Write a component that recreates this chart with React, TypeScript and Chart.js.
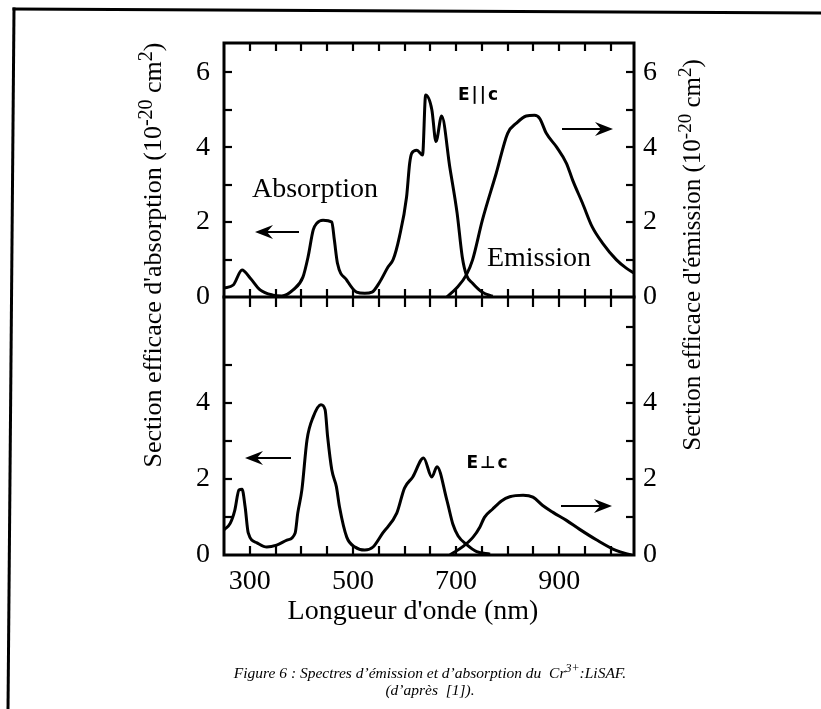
import React, { useEffect, useRef } from "react";
import { Chart, registerables } from "chart.js";

Chart.register(...registerables);

// ---------- data ----------
const X_MIN = 250;
const X_MAX = 1045;
const X_LABEL_TICKS = [300, 500, 700, 900];
const X_MARK_TICKS = [300, 350, 400, 450, 500, 550, 600, 650, 700, 750, 800, 850, 900, 950, 1000];
const Y_MAX = 6.78;
const Y_TOP_LABELS = [0, 2, 4, 6];
const Y_BOT_LABELS = [0, 2, 4];
const Y_TOP_LEFT_MARKS = [1, 2, 3, 4, 5, 6];
const Y_BOT_LEFT_MARKS = [1, 2, 3, 4, 5];
const Y_RIGHT_MARKS = [1, 2, 3, 4, 5, 6];

// E || c : absorption
const ABS_PAR_NM = [250, 268, 285, 301, 320, 345, 362, 384, 403, 413, 423, 430, 442, 459, 464, 470, 488, 507, 523, 537, 552, 568, 578, 590, 604, 610, 614, 624, 635, 641, 653, 661, 672, 688, 702, 712, 720, 732, 751, 771];
const ABS_PAR_VAL = [0.24, 0.32, 0.72, 0.5, 0.19, 0.05, 0.03, 0.19, 0.53, 1.07, 1.79, 1.97, 2.05, 2.0, 1.52, 0.9, 0.45, 0.13, 0.1, 0.13, 0.4, 0.8, 1.0, 1.6, 2.67, 3.57, 3.84, 3.92, 3.79, 5.39, 5.0, 4.15, 4.83, 3.45, 2.24, 1.07, 0.59, 0.37, 0.13, 0.02];
// E || c : emission
const EMI_PAR_NM = [682, 701, 720, 732, 751, 778, 800, 817, 836, 852, 862, 875, 895, 914, 926, 945, 964, 984, 1011, 1030, 1045];
const EMI_PAR_VAL = [0, 0.24, 0.59, 0.99, 2.05, 3.31, 4.37, 4.64, 4.83, 4.85, 4.77, 4.37, 4.0, 3.57, 3.12, 2.51, 1.87, 1.44, 0.99, 0.77, 0.64];
// E ⊥ c : absorption
const ABS_PERP_NM = [250, 262, 271, 279, 285, 291, 297, 314, 333, 352, 372, 388, 393, 401, 411, 423, 438, 446, 451, 459, 468, 474, 488, 504, 523, 539, 558, 585, 600, 616, 637, 653, 663, 682, 694, 704, 720, 740, 766];
const ABS_PERP_VAL = [0.66, 0.83, 1.18, 1.71, 1.73, 1.26, 0.58, 0.32, 0.21, 0.26, 0.39, 0.58, 1.1, 1.71, 3.03, 3.63, 3.95, 3.82, 3.1, 2.24, 1.79, 1.26, 0.47, 0.21, 0.13, 0.21, 0.58, 1.1, 1.76, 2.05, 2.55, 2.05, 2.32, 1.45, 0.8, 0.5, 0.28, 0.09, 0.02];
// E ⊥ c : emission
const EMI_PERP_NM = [688, 713, 733, 746, 755, 771, 788, 804, 830, 849, 868, 888, 914, 939, 972, 1010, 1040];
const EMI_PERP_VAL = [0, 0.22, 0.47, 0.73, 0.99, 1.21, 1.42, 1.53, 1.57, 1.52, 1.3, 1.12, 0.91, 0.68, 0.4, 0.12, 0];

// ---------- styles ----------
const SERIF = "'Liberation Serif', 'Times New Roman', serif";
const SANS = "'DejaVu Sans', sans-serif";
const W = 821;
const H = 709;

const zip = (xs: number[], ys: number[]) => xs.map((x, i) => ({ x, y: ys[i] }));

type Part = { t: string; sup?: boolean };

function drawRich(ctx: CanvasRenderingContext2D, parts: Part[], cx: number, baseY: number, size: number, style: string) {
  let total = 0;
  const widths: number[] = [];
  for (const p of parts) {
    ctx.font = `${style} ${p.sup ? Math.round(size * 0.75) : size}px ${SERIF}`;
    const w = ctx.measureText(p.t).width;
    widths.push(w);
    total += w;
  }
  let x = cx - total / 2;
  ctx.textAlign = "left";
  ctx.textBaseline = "alphabetic";
  parts.forEach((p, i) => {
    ctx.font = `${style} ${p.sup ? Math.round(size * 0.75) : size}px ${SERIF}`;
    ctx.fillText(p.t, x, p.sup ? baseY - size * 0.36 : baseY);
    x += widths[i];
  });
}

function arrow(ctx: CanvasRenderingContext2D, xTail: number, xHead: number, y: number) {
  const d = xHead > xTail ? 1 : -1;
  ctx.beginPath();
  ctx.lineWidth = 2;
  ctx.moveTo(xTail, y);
  ctx.lineTo(xHead - d * 8, y);
  ctx.stroke();
  ctx.beginPath();
  ctx.moveTo(xHead, y);
  ctx.lineTo(xHead - d * 18, y - 7);
  ctx.lineTo(xHead - d * 12, y);
  ctx.lineTo(xHead - d * 18, y + 7);
  ctx.closePath();
  ctx.fill();
}

const decoPlugin = {
  id: "deco",
  afterDraw(chart: any) {
    const ctx: CanvasRenderingContext2D = chart.ctx;
    const x = chart.scales.x;
    const yT = chart.scales.yTop;
    const yB = chart.scales.yBot;
    const L = chart.chartArea.left;
    const R = chart.chartArea.right;
    const T = yT.top;
    const M = yT.bottom;
    const B = yB.bottom;
    ctx.save();
    ctx.strokeStyle = "#000";
    ctx.fillStyle = "#000";
    ctx.lineCap = "square";

    const seg = (x1: number, y1: number, x2: number, y2: number) => {
      ctx.beginPath();
      ctx.moveTo(x1, y1);
      ctx.lineTo(x2, y2);
      ctx.stroke();
    };

    // plot frames
    ctx.lineWidth = 3;
    ctx.strokeRect(L, T, R - L, B - T);
    seg(L, M, R, M);

    // x tick marks
    ctx.lineWidth = 2.2;
    ctx.lineCap = "butt";
    for (const v of X_MARK_TICKS) {
      const px = Math.round(x.getPixelForValue(v));
      seg(px, T, px, T + 8);
      seg(px, M - 8, px, M + 10);
      seg(px, B - 9, px, B);
    }
    // y tick marks
    for (const v of Y_TOP_LEFT_MARKS) {
      const py = Math.round(yT.getPixelForValue(v));
      seg(L, py, L + 8, py);
    }
    for (const v of Y_BOT_LEFT_MARKS) {
      const py = Math.round(yB.getPixelForValue(v));
      seg(L, py, L + 8, py);
    }
    for (const v of Y_RIGHT_MARKS) {
      const p1 = Math.round(yT.getPixelForValue(v));
      const p2 = Math.round(yB.getPixelForValue(v));
      seg(R - 8, p1, R, p1);
      seg(R - 8, p2, R, p2);
    }

    // outer page frame (scanned, slightly tilted)
    ctx.lineWidth = 3;
    ctx.lineCap = "square";
    seg(14, 9, W, 13);
    seg(14, 9, 8, H);

    // axis titles
    const absTitle: Part[] = [
      { t: "Section efficace d'absorption (10" },
      { t: "-20", sup: true },
      { t: " cm" },
      { t: "2", sup: true },
      { t: ")" },
    ];
    const emiTitle: Part[] = [
      { t: "Section efficace d'émission (10" },
      { t: "-20", sup: true },
      { t: " cm" },
      { t: "2", sup: true },
      { t: ")" },
    ];
    ctx.save();
    ctx.translate(161, 255);
    ctx.rotate(-Math.PI / 2);
    drawRich(ctx, absTitle, 0, 0, 26, "");
    ctx.restore();
    ctx.save();
    ctx.translate(700, 255);
    ctx.rotate(-Math.PI / 2);
    drawRich(ctx, emiTitle, 0, 0, 25, "");
    ctx.restore();

    drawRich(ctx, [{ t: "Longueur d'onde (nm)" }], 413, 619, 28, "");

    // in-plot labels
    drawRich(ctx, [{ t: "Absorption" }], 315, 197, 28, "");
    drawRich(ctx, [{ t: "Emission" }], 539, 266, 28, "");

    ctx.font = `bold 17px ${SANS}`;
    ctx.textAlign = "center";
    ctx.textBaseline = "middle";
    (ctx as any).letterSpacing = "2px";
    ctx.fillText("E||c", 479, 96);
    ctx.fillText("E⊥c", 488, 464);
    (ctx as any).letterSpacing = "0px";

    // arrows
    arrow(ctx, 298, 255, 232);
    arrow(ctx, 563, 613, 129);
    arrow(ctx, 290, 245, 458);
    arrow(ctx, 562, 612, 506);

    // caption
    drawRich(
      ctx,
      [
        { t: "Figure 6 : Spectres d’émission et d’absorption du  Cr" },
        { t: "3+", sup: true },
        { t: ":LiSAF." },
      ],
      430,
      678,
      15.5,
      "italic"
    );
    drawRich(ctx, [{ t: "(d’après  [1])." }], 430, 695, 15.5, "italic");

    ctx.restore();
  },
};

const tickFont = { family: SERIF, size: 28 };

function yScale(position: "left" | "right", stack: string, sw: number, weight: number, labels: number[], width: number, pad: number) {
  return {
    type: "linear" as const,
    position,
    stack,
    stackWeight: sw,
    weight,
    min: 0,
    max: Y_MAX,
    grid: { display: false, drawTicks: false },
    border: { display: false },
    afterBuildTicks: (s: any) => {
      s.ticks = labels.map((v) => ({ value: v }));
    },
    afterFit: (s: any) => {
      s.width = width;
    },
    ticks: { font: tickFont, color: "#000", padding: pad, autoSkip: false },
  };
}

export default function App() {
  const ref = useRef<HTMLCanvasElement | null>(null);
  useEffect(() => {
    if (!ref.current) return;
    const line = { borderColor: "#000", borderWidth: 3, pointRadius: 0, fill: false, cubicInterpolationMode: "monotone" as const };
    const chart = new Chart(ref.current, {
      type: "line",
      data: {
        datasets: [
          { ...line, label: "Absorption E||c", data: zip(ABS_PAR_NM, ABS_PAR_VAL), yAxisID: "yTop" },
          { ...line, label: "Emission E||c", data: zip(EMI_PAR_NM, EMI_PAR_VAL), yAxisID: "yTop" },
          { ...line, label: "Absorption E⊥c", data: zip(ABS_PERP_NM, ABS_PERP_VAL), yAxisID: "yBot" },
          { ...line, label: "Emission E⊥c", data: zip(EMI_PERP_NM, EMI_PERP_VAL), yAxisID: "yBot" },
        ],
      },
      options: {
        responsive: false,
        animation: false,
        devicePixelRatio: 1,
        layout: { padding: { top: 43, left: 0, right: 0, bottom: 0 } },
        plugins: { legend: { display: false }, tooltip: { enabled: false }, title: { display: false } },
        scales: {
          x: {
            type: "linear",
            position: "bottom",
            min: X_MIN,
            max: X_MAX,
            grid: { display: false, drawTicks: false },
            border: { display: false },
            afterBuildTicks: (s: any) => {
              s.ticks = X_LABEL_TICKS.map((v) => ({ value: v }));
            },
            afterFit: (s: any) => {
              s.height = H - 555;
            },
            ticks: { font: tickFont, color: "#000", padding: 10, maxRotation: 0, autoSkip: false },
          },
          yTop: yScale("left", "L", 254, 2, Y_TOP_LABELS, 224, 14),
          yBot: yScale("left", "L", 258, 1, Y_BOT_LABELS, 224, 14),
          yTopR: yScale("right", "R", 254, 1, Y_TOP_LABELS, W - 634, 9),
          yBotR: yScale("right", "R", 258, 2, Y_BOT_LABELS, W - 634, 9),
        } as any,
      },
      plugins: [decoPlugin],
    });
    return () => chart.destroy();
  }, []);
  return (
    <div style={{ position: "fixed", left: 0, top: 0, width: W, height: H, background: "#fff" }}>
      <canvas ref={ref} width={W} height={H} style={{ display: "block", width: W, height: H }} />
    </div>
  );
}
